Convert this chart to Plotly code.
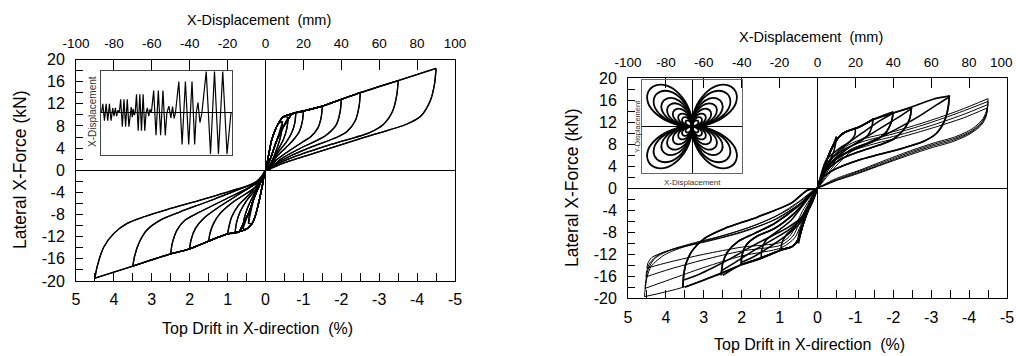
import plotly.graph_objects as go

W, H = 1016, 356

# ====================== LEFT chart: uni-directional X loading ======================
L_amp = [9, 12, 16, 20, 30, 40, 50, 70, 90]
L_peak_pos = [8.8, 9.6, 10.3, 10.7, 11.6, 12.8, 14.0, 16.2, 18.4]
L_peak_neg = [-9.6, -10.6, -11.1, -11.5, -12.8, -14.2, -15.1, -17.3, -19.5]

L_knee_pos_a = [(0, 0), (1.5, 2.5), (3.2, 5.4), (5, 7.2), (6.7, 8.4), (9.3, 9.6)]
L_knee_pos_b = [(0, 0), (3, 2.5), (6, 5.4), (9, 7.6), (12, 9.2)]
L_knee_neg_a = [(0, 0), (-1.5, -2.5), (-3, -5), (-5, -7.8), (-7, -9.6), (-10, -10.6)]
L_knee_neg_b = [(0, 0), (-3, -2.5), (-6, -5), (-9, -7.8), (-12, -9.8)]
L_env_pos = [(14, 10.2), (20, 10.7), (30, 11.6), (40, 12.8), (50, 14.0), (70, 16.2), (90, 18.4)]
L_env_neg = [(-14, -11.1), (-20, -11.5), (-30, -12.8), (-40, -14.2), (-50, -15.1), (-70, -17.3), (-90, -19.5)]

L_unload_pos = [
    [(9, 8.8), (8.3, 6.6), (6.5, 4.4), (2, 0.8)],
    [(12, 9.6), (11.3, 7.6), (9.5, 5.6), (6, 3.3), (2, 0.7)],
    [(16, 10.3), (15.5, 8.6), (14, 6.9), (11, 5.1), (7, 3.4), (2, 0.5)],
    [(20, 10.7), (19.5, 8.9), (18, 7.1), (15, 5.6), (12, 4.5), (6, 2.5), (2, 0.4)],
    [(30, 11.6), (29.4, 9.6), (27.6, 7.6), (24, 6.1), (20, 5.2), (12, 3.4), (5, 1.6), (2, 0.2)],
    [(40, 12.8), (39.4, 10.6), (37.3, 8.2), (33, 6.6), (29, 5.7), (18, 3.9), (8, 2.0), (2, 0.2)],
    [(50, 14.0), (49.4, 11.6), (47.3, 8.9), (43, 7.0), (38, 6.0), (25, 4.3), (12, 2.4), (4, 0.9), (2, 0.2)],
    [(70, 16.2), (69.3, 13.6), (67, 10.6), (62, 8.2), (55, 6.8), (35, 4.7), (15, 2.4), (5, 0.9), (2, 0.2)],
    [(90, 18.4), (89.2, 15.6), (87, 12.6), (82, 9.8), (75, 8.4), (50, 5.7), (25, 3.0), (8, 1.1), (2, 0.2)],
]
L_reload_neg = [
    [(-9, -9.6), (-8.3, -7.7), (-6.5, -5.4), (-3, -2.6), (-1, -1)],
    [(-12, -10.6), (-11.3, -8.8), (-9.5, -6.8), (-6, -4.3), (-1.5, -1.3)],
    [(-16, -11.1), (-15.3, -9.5), (-13.5, -7.6), (-10, -5.5), (-5, -3.4), (-1.5, -1.3)],
    [(-20, -11.5), (-19.3, -10.2), (-17.8, -8.4), (-14.2, -6.3), (-8.1, -4.2), (-2, -1.5)],
    [(-30, -12.8), (-29.3, -11.4), (-27.4, -9.6), (-23.9, -7.8), (-16.9, -5.7), (-6.3, -3.3), (-2, -1.5)],
    [(-40, -14.2), (-39.3, -12.6), (-37, -10.5), (-32.7, -8.7), (-25.7, -6.9), (-13.4, -4.2), (-3, -1.8)],
    [(-50, -15.1), (-49.2, -13.2), (-46.7, -10.8), (-42.4, -9.0), (-34.4, -7.5), (-20.4, -5.1), (-8, -3.0), (-3, -1.8)],
    [(-70, -17.3), (-69.2, -15.7), (-67, -13.3), (-62.6, -10.8), (-55.5, -9.0), (-45, -7.5), (-30, -5.6), (-15, -3.6), (-4.6, -2.0)],
    [(-90, -19.5), (-88.9, -17.5), (-85.4, -13.9), (-80, -11.4), (-73, -9.6), (-64, -8.4), (-52, -7.1), (-34.4, -5.4), (-16.9, -3.6), (-4.6, -2.1)],
]

# Inset (left): imposed X-displacement history
L_hist_t = [18, 22, 27, 32, 37, 42, 47, 52, 56, 60, 64, 68, 72,
            76, 81, 86, 91, 96, 101, 105, 108, 111, 114, 117, 120,
            124, 129, 134, 139, 144, 149, 153, 157, 161, 165, 169,
            176, 183, 190, 197, 204, 211, 216, 222, 228, 233, 238, 242,
            252, 262, 272, 282, 292, 300, 305, 310, 316, 322,
            335, 348, 360, 372, 385, 398, 410]
L_hist_d = [0, 19, -18, 19, -18, 19, -18, 10, -8, 10, -8, 5, 0,
            29, -31, 29, -31, 29, -31, 0, 12, -10, 8, -6, 0,
            40, -40, 40, -40, 40, -40, 0, 10, -8, 7, 0,
            48, -50, 48, -50, 48, -50, 0, 14, -12, 13, -13, 0,
            68, -70, 68, -70, 68, -70, 0, 22, -22, 0,
            90, -91, 90, -91, 90, -91, 0]

# ====================== RIGHT chart: clover-leaf (bi-directional) loading ======================
R_amp = [10, 20, 30, 40, 50, 70]
R_peak_pos = [9.4, 10.9, 12.7, 13.9, 14.7, 16.8]
R_peak_neg = [-10.0, -11.2, -12.7, -13.9, -15.8, -18.0]
R_knee_pos = [(0, 0), (2.5, 2.5), (5, 5.2), (8, 7.6), (11, 9.2)]
R_env_pos = [(14, 10.1), (22.3, 11.2), (29.4, 12.5), (40, 13.7), (49.6, 14.8), (61, 16.2), (69.5, 16.8)]
R_knee_neg = [(0, 0), (-2.5, -2), (-5.5, -4.5), (-8, -7), (-10, -9.2)]
R_env_neg = [(-13, -10.5), (-19.2, -11.2), (-29.7, -12.7), (-40.3, -13.9), (-50.8, -15.5), (-71, -18.0)]

R_unload_pos = [
    [(10, 9.4), (9.6, 8.2), (8.5, 6.6), (6, 4.6), (2, 1.6)],
    [(20, 10.9), (19.7, 9.7), (17, 8.5), (11.8, 7.3), (4.7, 5.2), (1.5, 2.0)],
    [(29.4, 12.7), (28.7, 11.2), (26.7, 9.7), (22.3, 8.5), (15.3, 7.3), (6.5, 5.2), (2, 2.0)],
    [(40, 13.9), (39, 12.1), (36.4, 10.3), (31, 8.8), (22.3, 7.5), (11.8, 5.8), (3.9, 3.3), (1, 1.0)],
    [(49.6, 14.7), (48.7, 12.7), (46, 10.9), (40.8, 9.1), (33, 7.9), (22.3, 6.7), (11.8, 5.2), (3, 2.7), (1, 1.0)],
    [(69.5, 16.8), (69, 14.8), (67.2, 12.4), (62.8, 10.0), (55.8, 8.5), (45, 7.3), (22.3, 5.2), (8.3, 3.3), (1.2, 1.5)],
]
R_reload_neg = [
    [(-10.4, -10.0), (-10, -8.6), (-8.6, -7), (-5.5, -4.5), (-2, -1.2)],
    [(-19.2, -11.2), (-18.8, -10), (-16.5, -8.5), (-12.1, -7), (-6, -3.9), (-2, -1)],
    [(-29.7, -12.7), (-29.4, -11.2), (-27.1, -9.4), (-22.7, -8.2), (-13.9, -5.8), (-6.9, -2.7), (-2, -0.6)],
    [(-40.3, -13.9), (-39.8, -12.1), (-37.6, -10.3), (-32.4, -8.8), (-22.7, -7.3), (-12.1, -4.5), (-3, -1)],
    [(-50.8, -15.8), (-50, -13.6), (-47.3, -11.5), (-42, -9.7), (-33.2, -8.2), (-22.7, -6.4), (-10.4, -3.3), (-3, -0.8)],
    [(-71, -18.0), (-70.7, -16.1), (-69.3, -13.6), (-65.8, -11.2), (-59.6, -9.1), (-49, -7.3), (-31.5, -5.2), (-13.9, -2.7), (-5.1, -0.3)],
]
# second-cycle (degraded) loading paths forming the diamond lattice
R2_amp_index = [3, 4, 5]
R2_load_pos = [
    [(0, 0), (3, 2.8), (8, 5.6), (15, 7.9), (25, 10.4), (33, 12.3), (40, 13.7)],
    [(0, 0), (3, 2.5), (8, 5.0), (15, 7.0), (25, 9.2), (35, 11.3), (43, 13.0), (49.6, 14.5)],
    [(0, 0), (3, 2.3), (8, 4.8), (16, 6.6), (25, 8.0), (35, 9.6), (45, 11.4), (55, 13.4), (63, 15.2), (69.5, 16.6)],
]
R2_load_neg = [
    [(0, 0), (-3, -2.8), (-8, -5.8), (-15, -8.2), (-25, -10.6), (-33, -12.3), (-40.3, -13.5)],
    [(0, 0), (-3, -2.6), (-8, -5.4), (-15, -7.5), (-25, -9.6), (-35, -11.6), (-44, -13.6), (-50.8, -15.0)],
    [(0, 0), (-3, -2.5), (-8, -5.2), (-16, -7.2), (-25, -8.8), (-35, -10.6), (-45, -12.6), (-55, -14.4), (-63, -15.7), (-71, -16.7)],
]
# +/-90 mm cycles (thin lines, strength degradation)
R9_load_pos = [
    [(0, 0), (3, 2.2), (8, 5.0), (15, 7.6), (22.3, 8.8), (40, 10.3), (57.5, 12.1), (75, 14.2), (90, 16.3)],
    [(0, 0), (3.5, 2.1), (9, 4.9), (16, 7.3), (24, 8.5), (40, 9.9), (57.5, 11.7), (75, 13.8), (90, 15.8)],
    [(0, 0), (4, 2.0), (10, 4.7), (17, 7.0), (26, 8.2), (42, 9.6), (59, 11.3), (76, 13.3), (89.8, 15.2)],
    [(0, 0), (4.5, 1.9), (11, 4.5), (18, 6.7), (28, 7.9), (44, 9.3), (60, 10.9), (77, 12.8), (89.5, 14.6)],
]
R9_unload_pos = [
    [(90, 16.3), (89.6, 14.6), (87.4, 12.7), (82, 10.9), (73, 9.4), (61, 8.2), (50.5, 7.0), (36.4, 5.2), (22.3, 3.3), (10, 1.8), (3, 0.6)],
    [(90, 15.8), (89.5, 14.0), (87, 12.2), (81.5, 10.5), (72.5, 9.1), (60.5, 7.9), (50, 6.7), (36, 4.9), (22, 3.1), (10, 1.6), (3, 0.5)],
    [(89.8, 15.2), (89.3, 13.6), (86.8, 11.9), (81, 10.2), (72, 8.8), (60, 7.6), (49.5, 6.4), (35.5, 4.6), (22, 2.9), (10, 1.5), (3, 0.5)],
    [(89.5, 14.6), (89, 13.1), (86.5, 11.5), (80.5, 9.9), (71.5, 8.5), (59.5, 7.3), (49, 6.1), (35, 4.4), (21.5, 2.7), (10, 1.4), (3, 0.4)],
]
R9_load_neg = [
    [(0, 0), (-2.5, -2), (-5.5, -4.5), (-8, -7), (-10, -9.2), (-13, -10.5), (-19.2, -11.2), (-40.3, -13.9), (-71, -18.0), (-91.3, -19.7)],
    [(0, 0), (-3, -2), (-6, -4.4), (-9, -6.8), (-12, -9.0), (-19, -10.8), (-40, -12.3), (-60, -14.4), (-78, -16.6), (-91, -18.2)],
    [(0, 0), (-3.5, -2), (-7, -4.3), (-10, -6.6), (-13, -8.7), (-19, -10.3), (-40, -11.4), (-60, -13.0), (-78, -14.7), (-90.5, -16.1)],
    [(0, 0), (-4, -2), (-8, -4.2), (-11, -6.4), (-14, -8.4), (-19, -9.8), (-40, -10.7), (-60, -12.0), (-78, -13.4), (-90, -14.5)],
]
R9_reload_neg = [
    [(-91.3, -19.7), (-91, -18.5), (-89.9, -16.1), (-87.8, -14.2), (-80.7, -12.1), (-70.2, -10.6), (-57.9, -9.4), (-40.3, -7.6), (-22.7, -5.2), (-8.6, -2.1), (-2, -0.3)],
    [(-91, -18.2), (-90.6, -16.8), (-89.4, -14.8), (-86, -12.8), (-78, -11.3), (-66, -10.0), (-50, -8.6), (-32, -6.6), (-15, -3.8), (-4, -1)],
    [(-90.5, -16.1), (-90.1, -15), (-88.5, -13.6), (-84, -12.1), (-75, -10.9), (-60, -9.7), (-42, -8.1), (-24, -5.9), (-9, -2.7), (-2, -0.4)],
    [(-90, -14.5), (-89.5, -13.6), (-87.5, -12.6), (-81, -11.6), (-70, -10.6), (-55, -9.4), (-38, -7.8), (-20, -5.3), (-7, -2.2), (-2, -0.4)],
]

# Inset (right): clover-leaf displacement orbit; one petal outline (unit size) and petal sizes
R_petal_x = [0, 0.34, 0.60, 0.75, 0.75, 0.63, 0.43, 0.22, 0.06, 0]
R_petal_y = [0, 0.06, 0.22, 0.43, 0.63, 0.75, 0.75, 0.60, 0.34, 0]
R_petal_size = [1.17, 1.0, 0.8, 0.65, 0.5, 0.36, 0.26, 0.17]

# Axis tick labels
mm_ticks = [-100, -80, -60, -40, -20, 0, 20, 40, 60, 80, 100]
mm_labels = ["-100", "-80", "-60", "-40", "-20", "0", "20", "40", "60", "80", "100"]
drift_ticks = [5, 4, 3, 2, 1, 0, -1, -2, -3, -4, -5]
drift_labels = ["5", "4", "3", "2", "1", "0", "-1", "-2", "-3", "-4", "-5"]
force_ticks = [-20, -16, -12, -8, -4, 0, 4, 8, 12, 16, 20]
force_labels = ["-20", "-16", "-12", "-8", "-4", "0", "4", "8", "12", "16", "20"]

FONT = "Liberation Sans, Arial, sans-serif"


def upto(points, limit, peak):
    pts = [p for p in points if abs(p[0]) < abs(limit) - 0.6]
    return pts + [(limit, peak)]


def add_seg(xs, ys, pts):
    for p in pts:
        xs.append(p[0])
        ys.append(p[1])
    xs.append(None)
    ys.append(None)


# ---- build left curves
lx, ly = [], []
for i, D in enumerate(L_amp):
    for kp, kn in [(L_knee_pos_a, L_knee_neg_a), (L_knee_pos_b, L_knee_neg_b)]:
        add_seg(lx, ly, L_reload_neg[i] + upto(kp + L_env_pos, D, L_peak_pos[i]))
        add_seg(lx, ly, L_unload_pos[i] + upto(kn + L_env_neg, -D, L_peak_neg[i]))

# ---- build right curves (thick)
rx, ry = [], []
for i, D in enumerate(R_amp):
    add_seg(rx, ry, R_reload_neg[i] + upto(R_knee_pos + R_env_pos, D, R_peak_pos[i]))
    add_seg(rx, ry, R_unload_pos[i] + upto(R_knee_neg + R_env_neg, -D, R_peak_neg[i]))
for j, i in enumerate(R2_amp_index):
    add_seg(rx, ry, R_reload_neg[i] + R2_load_pos[j])
    add_seg(rx, ry, R_unload_pos[i] + R2_load_neg[j])
# ---- right thin curves
r9x, r9y = [], []
for k in range(len(R9_load_pos)):
    add_seg(r9x, r9y, R9_reload_neg[k] + R9_load_pos[k])
    add_seg(r9x, r9y, R9_unload_pos[k] + R9_load_neg[k])

# ---- clover inset
cx, cy = [], []
for s in R_petal_size:
    for sx, sy in [(1, 1), (-1, 1), (-1, -1), (1, -1)]:
        for a, b in zip(R_petal_x, R_petal_y):
            cx.append(sx * a * s)
            cy.append(sy * b * s)
        cx.append(None)
        cy.append(None)

fig = go.Figure()
fig.add_trace(go.Scatter(x=lx, y=ly, xaxis="x2", yaxis="y", mode="lines",
                         line=dict(color="black", width=1.3, shape="spline", smoothing=0.8),
                         hoverinfo="skip", showlegend=False))
fig.add_trace(go.Scatter(x=[5, -5], y=[None, None], xaxis="x", yaxis="y", mode="lines",
                         showlegend=False, hoverinfo="skip"))
fig.add_trace(go.Scatter(x=r9x, y=r9y, xaxis="x4", yaxis="y3", mode="lines",
                         line=dict(color="black", width=1.0, shape="spline", smoothing=0.8),
                         hoverinfo="skip", showlegend=False))
fig.add_trace(go.Scatter(x=rx, y=ry, xaxis="x4", yaxis="y3", mode="lines",
                         line=dict(color="black", width=1.6, shape="spline", smoothing=0.8),
                         hoverinfo="skip", showlegend=False))
fig.add_trace(go.Scatter(x=[5, -5], y=[None, None], xaxis="x3", yaxis="y3", mode="lines",
                         showlegend=False, hoverinfo="skip"))
fig.add_trace(go.Scatter(x=L_hist_t, y=L_hist_d, xaxis="x5", yaxis="y5", mode="lines",
                         line=dict(color="black", width=1.2), hoverinfo="skip", showlegend=False))
fig.add_trace(go.Scatter(x=cx, y=cy, xaxis="x6", yaxis="y6", mode="lines",
                         line=dict(color="black", width=1.8, shape="spline", smoothing=1.0),
                         hoverinfo="skip", showlegend=False))


def fx(px):
    return px / W


def fy(py):
    return 1 - py / H


tick_common = dict(showgrid=False, showline=True, linecolor="black", linewidth=1,
                   ticks="inside", tickcolor="black", tickwidth=1, automargin=False)

Lx0, Lx1, Ly0, Ly1 = 76, 455, 59.5, 281
Rx0, Rx1, Ry0, Ry1 = 628, 1007, 78.3, 298.3


def drift_axis(x0, x1, yname):
    return dict(domain=[fx(x0), fx(x1)], anchor=yname, range=[5, -5], tickmode="array",
                tickvals=drift_ticks, ticktext=drift_labels,
                ticklen=8, minor=dict(dtick=0.5, ticks="inside", ticklen=8, tickcolor="black"),
                tickfont=dict(family=FONT, size=16, color="black"), zeroline=False,
                ticklabelstandoff=4, **tick_common)


def mm_axis(over, yname, labels):
    return dict(overlaying=over, side="top", anchor=yname, range=[-100, 100], tickmode="array",
                tickvals=mm_ticks, ticktext=labels,
                ticklen=10, tickfont=dict(family=FONT, size=13.5, color="black"),
                zeroline=True, zerolinecolor="black", zerolinewidth=1, ticklabelstandoff=5,
                **tick_common)


def force_axis(y0, y1, xname):
    return dict(domain=[fy(y1), fy(y0)], anchor=xname, range=[-20, 20], tickmode="array",
                tickvals=force_ticks, ticktext=force_labels,
                ticklen=7, minor=dict(dtick=2, ticks="inside", ticklen=7, tickcolor="black"),
                tickfont=dict(family=FONT, size=16, color="black"), mirror=True,
                zeroline=True, zerolinecolor="black", zerolinewidth=1, ticklabelstandoff=7,
                **tick_common)


inset_common = dict(showgrid=False, showticklabels=False, ticks="", showline=True, mirror=True,
                    linewidth=1, automargin=False)

fig.update_layout(
    width=W, height=H, margin=dict(l=0, r=0, t=0, b=0, pad=0, autoexpand=False),
    paper_bgcolor="white", plot_bgcolor="rgba(0,0,0,0)", showlegend=False,
    xaxis=drift_axis(Lx0, Lx1, "y"),
    xaxis2=mm_axis("x", "y", mm_labels),
    yaxis=force_axis(Ly0, Ly1, "x"),
    xaxis3=drift_axis(Rx0, Rx1, "y3"),
    # last label of the right chart sits at the page edge; it is drawn as an annotation below
    xaxis4=mm_axis("x3", "y3", mm_labels[:-1] + [""]),
    yaxis3=force_axis(Ry0, Ry1, "x3"),
    xaxis5=dict(domain=[fx(100.5), fx(232)], anchor="y5", range=[15, 413], zeroline=False,
                linecolor="#444", **inset_common),
    yaxis5=dict(domain=[fy(154.5), fy(71)], anchor="x5", range=[-92, 91], zeroline=True,
                zerolinecolor="black", zerolinewidth=1, linecolor="#444", **inset_common),
    xaxis6=dict(domain=[fx(642), fx(742)], anchor="y6", range=[-1, 1], zeroline=True,
                zerolinecolor="black", zerolinewidth=1, linecolor="#666", **inset_common),
    yaxis6=dict(domain=[fy(173), fy(80)], anchor="x6", range=[-1, 1], zeroline=True,
                zerolinecolor="black", zerolinewidth=1, linecolor="#666", **inset_common),
)


def ann(text, px, py, size, angle=0, color="black", xanchor="center"):
    fig.add_annotation(text=text, x=fx(px), y=fy(py), xref="paper", yref="paper",
                       xanchor=xanchor, yanchor="middle", showarrow=False, textangle=angle,
                       font=dict(family=FONT, size=size, color=color))


ann("X-Displacement \u00a0(mm)", 259, 20, 14.5)
ann("Top Drift in X-direction \u00a0(%)", 257, 328, 16)
ann("Lateral X-Force (kN)", 20, 170, 17.5, -90)
ann("X-Displacement", 92, 112, 10, -90, "#333")

ann("X-Displacement \u00a0(mm)", 811, 37, 14.5)
ann("Top Drift in X-direction \u00a0(%)", 809, 344, 16)
ann("Lateral X-Force (kN)", 572, 188, 17.5, -90)
ann("Y-Displacement", 638, 127, 7.5, -90, "#333")
ann("X-Displacement", 692, 182, 8, 0, "#333")
ann(mm_labels[-1], 1015, 63, 13.5, xanchor="right")

fig.write_html("out.html", config={"displayModeBar": False, "staticPlot": True},
               post_script="document.body.style.margin='0';document.body.style.overflow='hidden';")
